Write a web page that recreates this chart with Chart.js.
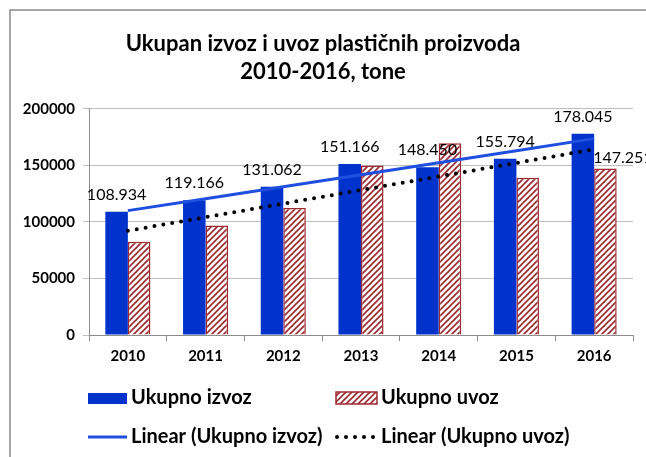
<!DOCTYPE html>
<html>
<head>
<meta charset="utf-8">
<script src="https://cdn.jsdelivr.net/npm/chart.js@4"></script>
<style>
  html, body { margin: 0; padding: 0; background: #fff; }
  #wrap { width: 646px; height: 457px; }
</style>
</head>
<body>
<div id="wrap"><canvas id="chart" width="646" height="457"></canvas></div>
<script>
// podaci
const years = ['2010', '2011', '2012', '2013', '2014', '2015', '2016'];
const izvoz = [108934, 119166, 131062, 151166, 148450, 155794, 178045];
const uvoz  = [82500, 96800, 112300, 150000, 169500, 139000, 147251];
// trend linije ocitane sa slike
const trendIzvoz = [110000, 120600, 131200, 141800, 152400, 163000, 173700];
const trendUvoz  = [92200, 104200, 116200, 128200, 140200, 152200, 164200];
const yTicks = [0, 50000, 100000, 150000, 200000];

const FONT = 'Lato, "Open Sans", sans-serif';
const BLUE = '#0033CC';
const RED = '#9E2A2F';

const fmt = v => String(v).replace(/\B(?=(\d{3})+(?!\d))/g, '.');

// srafura za uvoz
function hatch() {
  const c = document.createElement('canvas');
  c.width = 6; c.height = 6;
  const g = c.getContext('2d');
  g.fillStyle = '#fff';
  g.fillRect(0, 0, 6, 6);
  g.strokeStyle = RED;
  g.lineWidth = 1.6;
  g.beginPath();
  g.moveTo(-1, 7); g.lineTo(7, -1);
  g.moveTo(-4, 4); g.lineTo(4, -4);
  g.moveTo(2, 10); g.lineTo(10, 2);
  g.stroke();
  return document.getElementById('chart').getContext('2d').createPattern(c, 'repeat');
}
const hatchFill = hatch();

// okvir i bela pozadina
const frame = {
  id: 'frame',
  beforeDraw(chart) {
    const ctx = chart.ctx;
    ctx.save();
    ctx.fillStyle = '#fff';
    ctx.fillRect(0, 0, chart.width, chart.height);
    ctx.strokeStyle = '#8A8A8A';
    ctx.lineWidth = 1.5;
    ctx.beginPath();
    ctx.moveTo(10, chart.height + 2);
    ctx.lineTo(10, 10);
    ctx.lineTo(chart.width + 2, 10);
    ctx.stroke();
    ctx.restore();
  },
};

// vrednosti iznad stubova
const valueLabels = {
  id: 'valueLabels',
  afterDatasetsDraw(chart) {
    const ctx = chart.ctx;
    ctx.save();
    ctx.font = '16px ' + FONT;
    ctx.fillStyle = '#000';
    ctx.textBaseline = 'middle';
    chart.getDatasetMeta(2).data.forEach((bar, i) => {
      ctx.textAlign = 'center';
      ctx.fillText(fmt(izvoz[i]), bar.x, bar.y - 17);
    });
    const last = chart.getDatasetMeta(3).data[uvoz.length - 1];
    ctx.textAlign = 'left';
    ctx.fillText(fmt(uvoz[uvoz.length - 1]), last.x - last.width / 2 - 1, last.y - 11);
    ctx.restore();
  },
};

// legenda u dve kolone
const legend2 = {
  id: 'legend2',
  afterDraw(chart) {
    const ctx = chart.ctx;
    const ds = chart.data.datasets;
    ctx.save();
    ctx.font = 'bold 20px ' + FONT;
    ctx.fillStyle = '#000';
    ctx.textBaseline = 'middle';
    ctx.textAlign = 'left';
    // Ukupno izvoz
    ctx.fillStyle = BLUE;
    ctx.fillRect(88, 393, 39, 11);
    ctx.fillStyle = '#000';
    ctx.fillText(ds[2].label, 131, 398);
    // Ukupno uvoz
    ctx.fillStyle = hatchFill;
    ctx.fillRect(336, 392, 41, 12);
    ctx.strokeStyle = RED;
    ctx.lineWidth = 1.5;
    ctx.strokeRect(336, 392, 41, 12);
    ctx.fillStyle = '#000';
    ctx.fillText(ds[3].label, 381, 398);
    // Linear (Ukupno izvoz)
    ctx.strokeStyle = ds[0].borderColor;
    ctx.lineWidth = 3;
    ctx.beginPath();
    ctx.moveTo(88, 437); ctx.lineTo(127, 437);
    ctx.stroke();
    ctx.fillText(ds[0].label, 131, 437);
    // Linear (Ukupno uvoz)
    ctx.fillStyle = '#000';
    for (let k = 0; k < 5; k++) {
      ctx.beginPath();
      ctx.arc(337 + k * 9, 437, 2, 0, Math.PI * 2);
      ctx.fill();
    }
    ctx.fillText(ds[1].label, 381, 437);
    ctx.restore();
  },
};

new Chart(document.getElementById('chart'), {
  data: {
    labels: years,
    datasets: [
      {
        type: 'line',
        label: 'Linear (Ukupno izvoz)',
        data: trendIzvoz,
        borderColor: '#1F4FE0',
        borderWidth: 3,
        pointRadius: 0,
        tension: 0,
        order: 0,
      },
      {
        type: 'line',
        label: 'Linear (Ukupno uvoz)',
        data: trendUvoz,
        borderColor: '#000',
        borderWidth: 4,
        borderDash: [0, 9],
        borderCapStyle: 'round',
        pointRadius: 0,
        tension: 0,
        order: 0,
      },
      {
        type: 'bar',
        label: 'Ukupno izvoz',
        data: izvoz,
        backgroundColor: BLUE,
        borderWidth: 0,
        categoryPercentage: 0.58,
        barPercentage: 1,
        order: 1,
      },
      {
        type: 'bar',
        label: 'Ukupno uvoz',
        data: uvoz,
        backgroundColor: hatchFill,
        borderColor: RED,
        borderWidth: 1.5,
        categoryPercentage: 0.58,
        barPercentage: 1,
        order: 1,
      },
    ],
  },
  options: {
    responsive: false,
    animation: false,
    layout: { padding: { top: 16, right: 13, bottom: 86, left: 13 } },
    plugins: {
      legend: { display: false },
      tooltip: { enabled: false },
      title: {
        display: true,
        text: ['Ukupan izvoz i uvoz plastičnih proizvoda', '2010-2016, tone'],
        color: '#000',
        font: { family: FONT, size: 22, weight: 'bold', lineHeight: 1.27 },
        padding: { top: 14, bottom: 23 },
      },
    },
    scales: {
      x: {
        grid: { display: true, drawOnChartArea: false, tickLength: 6, color: '#8C8C8C' },
        border: { color: '#8C8C8C' },
        ticks: { color: '#000', padding: 6, font: { family: FONT, size: 15, weight: 'bold' } },
      },
      y: {
        min: 0,
        max: 200000,
        afterFit: s => { s.width = 76; },
        afterBuildTicks: s => { s.ticks = yTicks.map(v => ({ value: v })); },
        grid: { color: '#BFBFBF', tickLength: 6 },
        border: { color: '#8C8C8C' },
        ticks: {
          color: '#000',
          padding: 8,
          font: { family: FONT, size: 15, weight: 'bold' },
          callback: v => String(v),
        },
      },
    },
  },
  plugins: [frame, valueLabels, legend2],
});
</script>
</body>
</html>
